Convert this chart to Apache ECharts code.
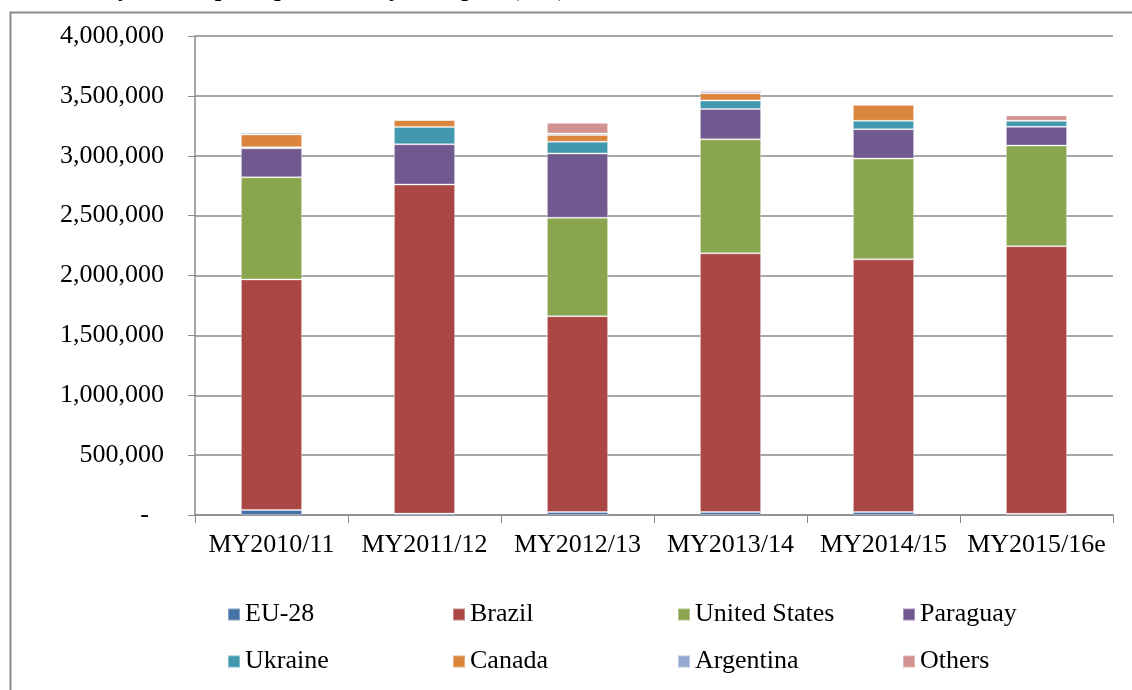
<!DOCTYPE html>
<html>
<head>
<meta charset="utf-8">
<script src="https://cdn.jsdelivr.net/npm/echarts@6/dist/echarts.min.js"></script>
<style>
  html, body { margin: 0; padding: 0; background: #fff; }
  #main { width: 1132px; height: 690px; }
</style>
</head>
<body>
<div id="main"></div>
<script>
// marketing years on the x axis
var years = ['MY2010/11', 'MY2011/12', 'MY2012/13', 'MY2013/14', 'MY2014/15', 'MY2015/16e'];

// tonnes per origin
var eu28      = [42000, 12000, 25000, 25000, 25000, 10000];
var brazil    = [1925000, 2748000, 1635000, 2160000, 2110000, 2235000];
var usa       = [853000, 0, 822000, 952000, 841000, 840000];
var paraguay  = [242000, 336000, 537000, 254000, 246000, 157000];
var ukraine   = [10000, 145000, 98000, 71000, 70000, 51000];
var canada    = [106000, 57000, 57000, 59000, 134000, 0];
var argentina = [14000, 0, 11000, 17000, 0, 0];
var others    = [9000, 9000, 90000, 12000, 7000, 43000];

var yTicks = [0, 500000, 1000000, 1500000, 2000000, 2500000, 3000000, 3500000, 4000000];

var serif = '"Liberation Serif", "DejaVu Serif", serif';

function mkSeries(name, data, color) {
  return {
    name: name,
    type: 'bar',
    stack: 'total',
    barWidth: '40%',
    data: data,
    itemStyle: { color: color, borderColor: 'rgba(255,255,255,0.35)', borderWidth: 1 }
  };
}

var chart = echarts.init(document.getElementById('main'));
chart.setOption({
  animation: false,
  backgroundColor: '#fff',
  title: {
    text: 'EU-28 Soybean Imports per Country of Export (MT)',
    right: 566,
    top: -22,
    padding: 0,
    textStyle: { fontFamily: serif, fontWeight: 'bold', fontSize: 24, color: '#000' }
  },
  graphic: [{
    type: 'rect',
    left: 8, top: 10,
    shape: { width: 1200, height: 700 },
    style: { fill: 'none', stroke: '#8a8a8a', lineWidth: 2 },
    silent: true
  }],
  grid: { left: 195, right: 19, top: 36, bottom: 175 },
  legend: {
    left: 222,
    top: 586,
    width: 900,
    itemWidth: 12,
    itemHeight: 12,
    itemGap: 0,
    icon: 'rect',
    textStyle: {
      fontFamily: serif, fontSize: 26, color: '#000',
      width: 207, lineHeight: 47, overflow: 'none'
    },
    data: ['EU-28', 'Brazil', 'United States', 'Paraguay', 'Ukraine', 'Canada', 'Argentina', 'Others']
  },
  xAxis: {
    type: 'category',
    data: years,
    axisLine: { lineStyle: { color: '#8a8a8a', width: 1.5 } },
    axisTick: { show: true, length: 8, alignWithLabel: false, lineStyle: { color: '#8a8a8a' } },
    axisLabel: { interval: 0, margin: 17, fontFamily: serif, fontSize: 26, color: '#000' }
  },
  yAxis: {
    type: 'value',
    min: yTicks[0],
    max: yTicks[yTicks.length - 1],
    interval: 500000,
    axisLine: { show: true, lineStyle: { color: '#8a8a8a', width: 1.5 } },
    axisTick: { show: true, length: 7, lineStyle: { color: '#8a8a8a' } },
    splitLine: { lineStyle: { color: '#8a8a8a', width: 1.5 } },
    axisLabel: {
      margin: 31,
      fontFamily: serif, fontSize: 26, color: '#000',
      formatter: function (v) {
        return v === 0 ? '{d|-}' : v.toLocaleString('en-US');
      },
      rich: { d: { fontFamily: serif, fontSize: 26, color: '#000', padding: [0, 15, 0, 0] } }
    }
  },
  series: [
    mkSeries('EU-28', eu28, '#4572A7'),
    mkSeries('Brazil', brazil, '#AA4643'),
    mkSeries('United States', usa, '#89A54E'),
    mkSeries('Paraguay', paraguay, '#71588F'),
    mkSeries('Ukraine', ukraine, '#4198AF'),
    mkSeries('Canada', canada, '#DB843D'),
    mkSeries('Argentina', argentina, '#93A9CF'),
    mkSeries('Others', others, '#D19392')
  ]
});
</script>
</body>
</html>
